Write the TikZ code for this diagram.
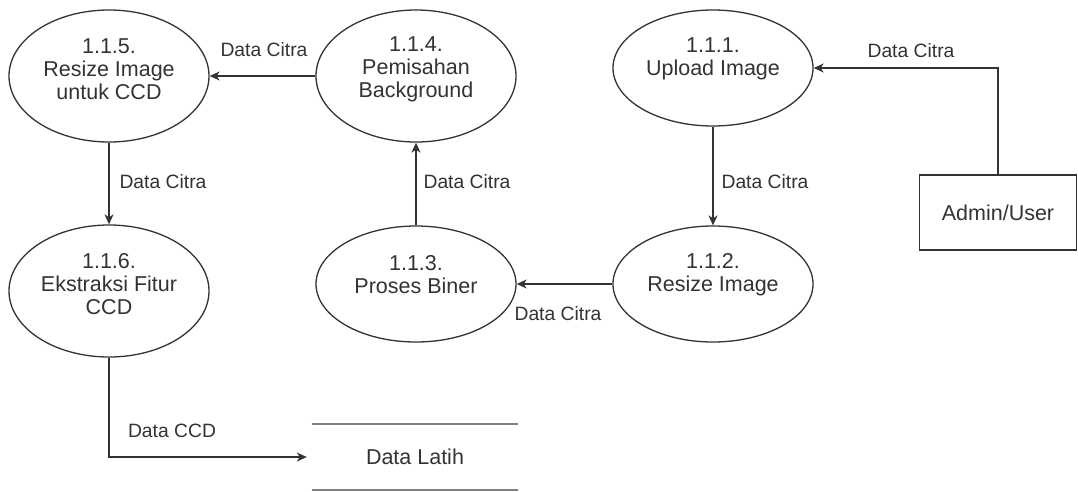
\documentclass[tikz,border=0pt]{standalone}
\usepackage{fontspec}
\setmainfont{Liberation Sans}
\usetikzlibrary{arrows.meta,shapes.geometric}

\definecolor{ink}{HTML}{333333}
\definecolor{storeline}{HTML}{7F7F7F}

\begin{document}
\begin{tikzpicture}[x=1pt,y=-1pt,
  proc/.style={ellipse, draw=ink, line width=1.3pt, inner sep=0pt,
    minimum width=200pt},
  tallproc/.style={proc, minimum height=132pt},
  flatproc/.style={proc, minimum height=116pt},
  proctext/.style={align=center, text=ink, inner sep=0pt,
    font=\fontsize{21.5}{23}\selectfont},
  flow/.style={draw=ink, line width=1.3pt,
    -{Stealth[length=10pt,width=9pt,inset=3pt]}},
  flowlabel/.style={text=ink, inner sep=0pt,
    font=\fontsize{19.3}{22}\selectfont},
  entity/.style={rectangle, draw=ink, line width=1.3pt, inner sep=0pt,
    minimum width=157pt, minimum height=75pt, text=ink,
    font=\fontsize{21.5}{24}\selectfont},
  datastore/.style={rectangle, inner sep=0pt, minimum width=206pt,
    minimum height=66pt, text=ink, font=\fontsize{21.5}{24}\selectfont}
]
\useasboundingbox[fill=white] (0,0) rectangle (1078,491);

% processes
\node[tallproc] (p5) at (109,76)  {};
\node[tallproc] (p4) at (416,76)  {};
\node[flatproc] (p1) at (713,68)  {};
\node[tallproc] (p6) at (109,291) {};
\node[flatproc] (p3) at (416,284) {};
\node[flatproc] (p2) at (713,284) {};

\node[proctext] at ([yshift=7pt]p5.center)  {1.1.5.\\Resize Image\\untuk CCD};
\node[proctext] at ([yshift=7pt]p4.center)  {1.1.4.\\Pemisahan\\Background};
\node[proctext] at ([yshift=9pt]p1.center)  {1.1.1.\\Upload Image};
\node[proctext] at ([yshift=7pt]p6.center)  {1.1.6.\\Ekstraksi Fitur\\CCD};
\node[proctext] at ([yshift=9pt]p3.center)  {1.1.3.\\Proses Biner};
\node[proctext] at ([yshift=9pt]p2.center)  {1.1.2.\\Resize Image};

% external entity and data store
\node[entity] (admin) at (998,212.5) {Admin/User};
\node[datastore] (latih) at (415,457) {Data Latih};
\draw[storeline, line width=1.6pt]
  (latih.north west) -- (latih.north east)
  (latih.south west) -- (latih.south east);

% data flows
\draw[flow] (admin.north) |- (p1.east);
\draw[flow] (p1.south) -- (p2.north);
\draw[flow] (p2.west) -- (p3.east);
\draw[flow] (p3.north) -- (p4.south);
\draw[flow] (p4.west) -- (p5.east);
\draw[flow] (p5.south) -- (p6.north);
\draw[flow, shorten >=5pt] (p6.south) |- (latih.west);

% flow labels
\node[flowlabel] (l1) at (911,51)  {Data Citra};
\node[flowlabel] (l2) at (765,182) {Data Citra};
\node[flowlabel] (l3) at (558,314) {Data Citra};
\node[flowlabel] (l4) at (467,182) {Data Citra};
\node[flowlabel] (l5) at (264,50)  {Data Citra};
\node[flowlabel] (l6) at (163,182) {Data Citra};
\node[flowlabel] (l7) at (172,431) {Data CCD};
\end{tikzpicture}
\end{document}
